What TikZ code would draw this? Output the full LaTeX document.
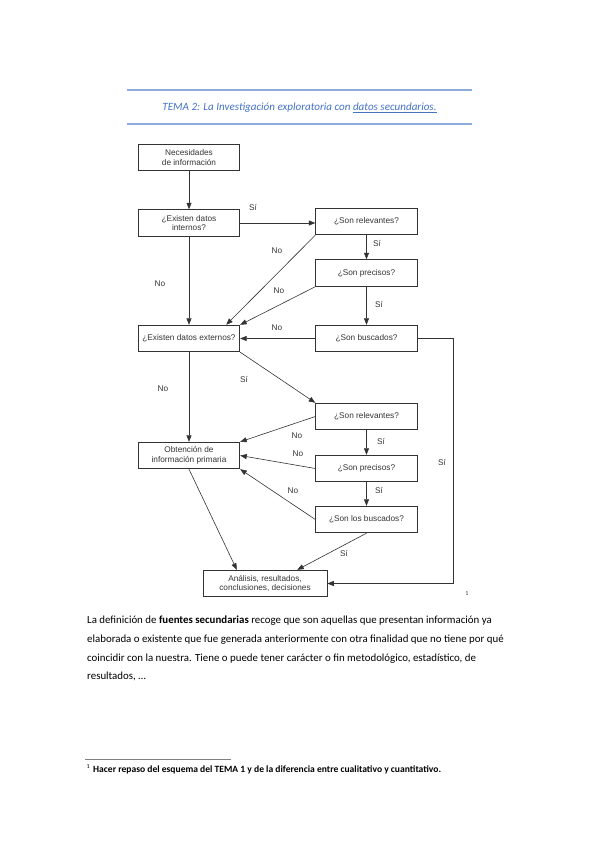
\documentclass[tikz,border=0pt]{standalone}
\usepackage{fontspec}
\setmainfont{Carlito}
\newfontfamily\diag{Liberation Sans}
\usetikzlibrary{arrows.meta}
\definecolor{lineblue}{HTML}{8EAADB}
\definecolor{titleblue}{HTML}{4472C4}
\definecolor{dgray}{HTML}{333333}
\begin{document}
\begin{tikzpicture}[x=0.9933pt,y=-0.9933pt,
  box/.style={draw=dgray, line width=0.7pt, minimum width=101pt, minimum height=26.5pt, inner sep=1pt, align=center, font=\diag\fontsize{8.2}{9.6}\selectfont, text=dgray},
  lab/.style={font=\diag\fontsize{8.2}{9.6}\selectfont, text=dgray, inner sep=0pt},
  arr/.style={draw=dgray, line width=0.6pt, -{Triangle[length=6.5pt,width=5pt]}},
  hrule/.style={draw=lineblue, line width=1.1pt},
  bodyline/.style={anchor=base west, inner sep=0pt, font=\fontsize{10.8}{12}\selectfont}]
\useasboundingbox (0,0) rectangle (599,848);
% header
\coordinate (h1a) at (127,90); \coordinate (h1b) at (472,90);
\coordinate (h2a) at (127,124); \coordinate (h2b) at (472,124);
\draw[hrule] (h1a) -- (h1b);
\draw[hrule] (h2a) -- (h2b);
\node[text=titleblue, font=\itshape\fontsize{11}{13}\selectfont, inner sep=0pt] (title) at (299.5,108) {TEMA 2: La Investigación exploratoria con \underline{datos secundarios.}};
% boxes
\node[box] (nec) at (189,157.5) {Necesidades\\de información};
\node[box] (intn) at (189,223) {¿Existen datos\\internos?};
\node[box] (rel1) at (366.5,221.5) {¿Son relevantes?};
\node[box] (pre1) at (366.5,273) {¿Son precisos?};
\node[box] (bus1) at (366.5,338.5) {¿Son buscados?};
\node[box] (ext) at (189,338.5) {¿Existen datos externos?};
\node[box] (rel2) at (366.5,416.5) {¿Son relevantes?};
\node[box] (obt) at (189,455.5) {Obtención de\\información primaria};
\node[box] (pre2) at (366.5,468.5) {¿Son precisos?};
\node[box] (bus2) at (366.5,519.5) {¿Son los buscados?};
\node[box, minimum width=123pt] (ana) at (265,583.5) {Análisis, resultados,\\conclusiones, decisiones};
% connectors
\draw[arr] (nec) -- (intn);
\draw[arr] (intn) -- (rel1.west |- intn);
\draw[arr] (rel1) -- (pre1);
\draw[arr] (pre1) -- (bus1);
\draw[arr] (intn) -- (ext);
\draw[arr] (rel1.south west) -- ([xshift=37pt]ext.north);
\draw[arr] (pre1.south west) -- (ext.north east);
\draw[arr] (bus1) -- (ext);
\draw[arr] (ext.south east) -- (rel2.north west);
\draw[arr] (ext) -- (obt);
\draw[arr] (rel2.west) -- (obt.north east);
\draw[arr] (rel2) -- (pre2);
\draw[arr] (pre2) -- (bus2);
\draw[arr] (pre2.west) -- (obt.east);
\draw[arr] (bus2.west) -- (obt.south east);
\draw[arr] (bus2.south) -- ([xshift=32pt]ana.north);
\draw[arr] (obt.south) -- ([xshift=-28pt]ana.north);
\coordinate (rt) at (453,583.5);
\draw[arr] (bus1.east) -| (rt) -- (ana.east);
% labels
\node[lab] (l1) at (253,208) {Sí};
\node[lab] (l2) at (377,244) {Sí};
\node[lab] (l3) at (277,251) {No};
\node[lab] (l4) at (160,284) {No};
\node[lab] (l5) at (279,291) {No};
\node[lab] (l6) at (379,304) {Sí};
\node[lab] (l7) at (277,328) {No};
\node[lab] (l8) at (244,379) {Sí};
\node[lab] (l9) at (163,389) {No};
\node[lab] (l10) at (297,436) {No};
\node[lab] (l11) at (381,441) {Sí};
\node[lab] (l12) at (298,454) {No};
\node[lab] (l13) at (442,462) {Sí};
\node[lab] (l14) at (379,490) {Sí};
\node[lab] (l15) at (293,491) {No};
\node[lab] (l16) at (344,553) {Sí};
\node[inner sep=0pt, font=\fontsize{6}{7}\selectfont, text=dgray] (fn1) at (467,594) {1};
% body text
\node[bodyline] (p1) at (87,623) {La definición de \textbf{fuentes secundarias} recoge que son aquellas que presentan información ya};
\node[bodyline] (p2) at (87,642) {elaborada o existente que fue generada anteriormente con otra finalidad que no tiene por qué};
\node[bodyline] (p3) at (87,661) {coincidir con la nuestra. Tiene o puede tener carácter o fin metodológico, estadístico, de};
\node[bodyline] (p4) at (87,679.5) {resultados, …};
% footnote
\coordinate (fra) at (85,759); \coordinate (frb) at (231,759);
\draw[draw=gray, line width=0.8pt] (fra) -- (frb);
\node[anchor=base west, inner sep=0pt, font=\fontsize{6}{7}\selectfont] (fnm) at (86.5,768) {1};
\node[anchor=base west, inner sep=0pt, font=\bfseries\fontsize{9.5}{11}\selectfont] (fnt) at (93,772.5) {Hacer repaso del esquema del TEMA 1 y de la diferencia entre cualitativo y cuantitativo.};
\end{tikzpicture}
\end{document}
